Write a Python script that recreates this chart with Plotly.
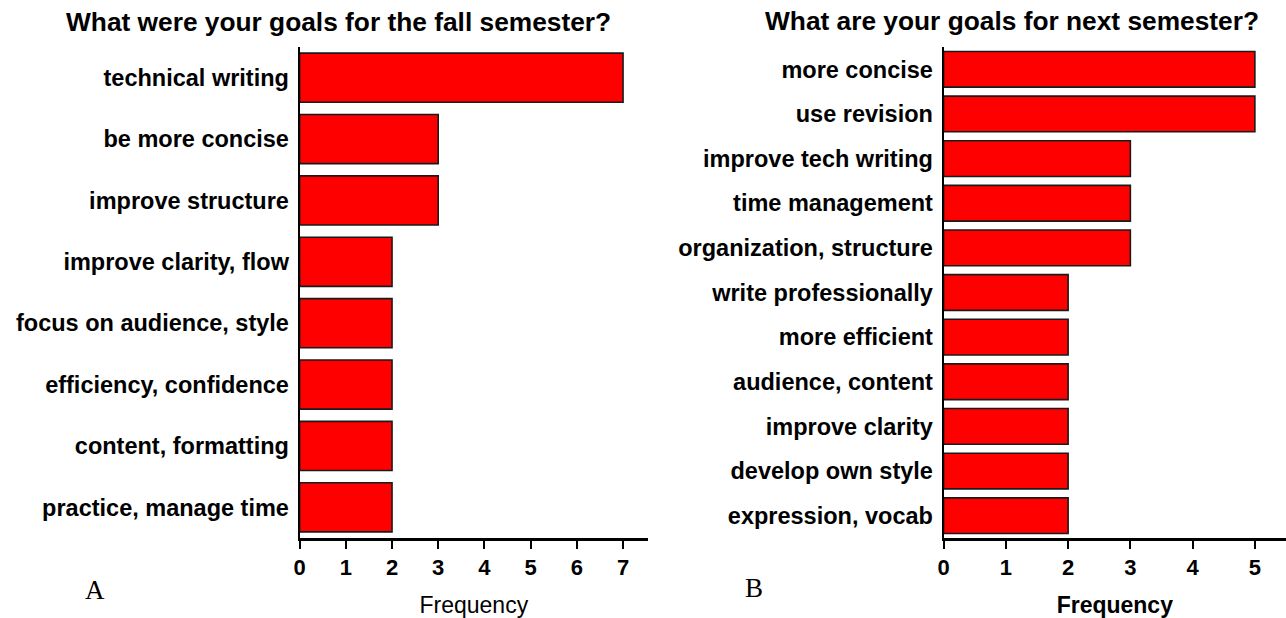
import plotly.graph_objects as go

W, H = 1286, 618

# panel A: goals for the fall semester
fall_goals = ["technical writing", "be more concise", "improve structure",
              "improve clarity, flow", "focus on audience, style",
              "efficiency, confidence", "content, formatting",
              "practice, manage time"]
fall_counts = [7, 3, 3, 2, 2, 2, 2, 2]

# panel B: goals for next semester
next_goals = ["more concise", "use revision", "improve tech writing",
              "time management", "organization, structure",
              "write professionally", "more efficient", "audience, content",
              "improve clarity", "develop own style", "expression, vocab"]
next_counts = [5, 5, 3, 3, 3, 2, 2, 2, 2, 2, 2]

FONT = "Liberation Sans, Arial, sans-serif"
bar_style = dict(marker_color="#ff0000",
                 marker_line=dict(color="#1a1a1a", width=1.6))


def px_x(p):
    return p / W


def px_y(p):
    return 1 - p / H


fig = go.Figure()
fig.add_trace(go.Bar(x=fall_counts, y=fall_goals, orientation="h",
                     xaxis="x", yaxis="y", **bar_style))
fig.add_trace(go.Bar(x=next_counts, y=next_goals, orientation="h",
                     xaxis="x2", yaxis="y2", **bar_style))

xcommon = dict(showline=True, linecolor="black", linewidth=2.5,
               ticks="outside", ticklen=8, tickwidth=2, tickcolor="black",
               showgrid=False, zeroline=False, dtick=1,
               tickfont=dict(family=FONT, size=22, color="black", weight="bold"))
ycommon = dict(showline=True, linecolor="black", linewidth=2,
               ticks="", showgrid=False, autorange="reversed",
               ticklabelstandoff=4,
               tickfont=dict(family=FONT, size=23.5, color="black", weight="bold"))

fig.update_layout(
    width=W, height=H,
    margin=dict(l=0, r=0, t=0, b=0),
    plot_bgcolor="white", paper_bgcolor="white",
    showlegend=False, bargap=0.2,
    xaxis=dict(domain=[px_x(295), px_x(645)], range=[0, 7.54], anchor="y",
               title=dict(text="Frequency", standoff=18,
                          font=dict(family=FONT, size=23, color="black")),
               **xcommon),
    yaxis=dict(domain=[px_y(538), px_y(47)], anchor="x", **ycommon),
    xaxis2=dict(domain=[px_x(942), 1.0], range=[0, 5.5], anchor="y2",
                title=dict(text="Frequency", standoff=18,
                           font=dict(family=FONT, size=23, color="black",
                                     weight="bold")),
                **xcommon),
    yaxis2=dict(domain=[px_y(538), px_y(47)], anchor="x2", **ycommon),
)

titles = [("What were your goals for the fall semester?", 334, 22),
          ("What are your goals for next semester?", 1011, 21)]
for text, cx, cy in titles:
    fig.add_annotation(text=text, x=px_x(cx), y=px_y(cy), xref="paper",
                       yref="paper", xanchor="center", yanchor="middle",
                       showarrow=False,
                       font=dict(family=FONT, size=26.3, color="black",
                                 weight="bold"))

for text, cx, cy in [("A", 89, 590), ("B", 752, 588)]:
    fig.add_annotation(text=text, x=px_x(cx), y=px_y(cy), xref="paper",
                       yref="paper", xanchor="center", yanchor="middle",
                       showarrow=False,
                       font=dict(family="Liberation Serif, Times New Roman, serif",
                                 size=27, color="black"))

# drop the default 8px body margin so the figure sits at the page origin
fig.write_html("out.html", config={"displayModeBar": False},
               post_script="document.body.style.margin='0';")
